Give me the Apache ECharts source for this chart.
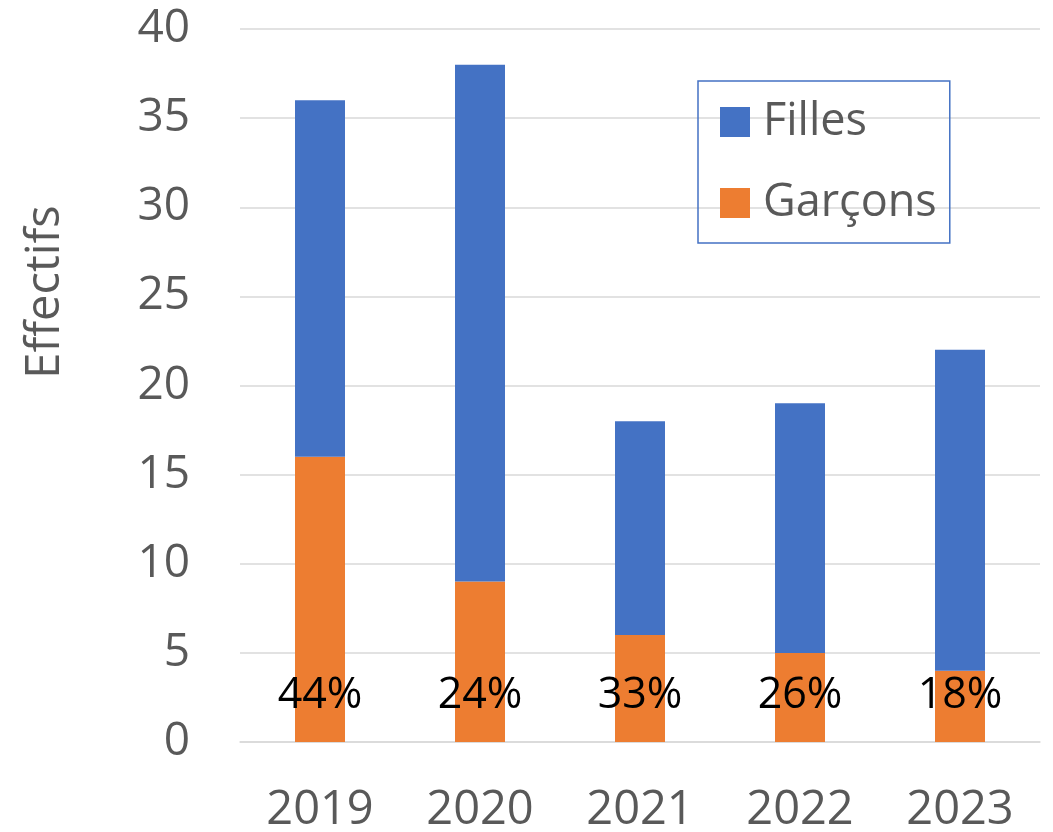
<!DOCTYPE html>
<html lang="fr">
  <head>
    <meta charset="UTF-8" />
    <title>Effectifs</title>
    <script src="https://cdn.jsdelivr.net/npm/echarts@6/dist/echarts.min.js"></script>
    <style>
      html, body { margin: 0; padding: 0; background: #fff; }
    </style>
  </head>
  <body>
    <div id="main" style="width: 1053px; height: 832px;"></div>
    <script type="text/javascript">
      var annees = ["2019", "2020", "2021", "2022", "2023"];
      var garcons = [16, 9, 6, 5, 4];
      var filles = [20, 29, 12, 14, 18];

      var police = "Open Sans";
      var gris = "#595959";

      var myChart = echarts.init(document.getElementById("main"));
      myChart.setOption({
        animation: false,
        textStyle: { fontFamily: police },
        grid: { left: 240, right: 13, top: 29, bottom: 90, outerBoundsMode: "none" },
        legend: {
          data: ["Filles", "Garçons"],
          orient: "vertical",
          left: 698,
          top: 81,
          padding: [18, 13, 17, 22],
          borderColor: "#4472C4",
          borderWidth: 1.5,
          itemWidth: 30,
          itemHeight: 30,
          itemGap: 35,
          icon: "rect",
          textStyle: {
            fontSize: 45,
            lineHeight: 46,
            color: gris,
            padding: [0, 0, 0, 8]
          }
        },
        xAxis: {
          type: "category",
          data: annees,
          axisLine: { show: true, lineStyle: { color: "#D9D9D9", width: 1.5 } },
          axisTick: { show: false },
          axisLabel: { fontSize: 47, color: gris, margin: 45 }
        },
        yAxis: {
          type: "value",
          min: 0,
          max: 40,
          interval: 5,
          axisLine: { show: false },
          axisTick: { show: false },
          axisLabel: { fontSize: 46, color: gris, margin: 50 },
          splitLine: { lineStyle: { color: "#D9D9D9", width: 1.5 } }
        },
        graphic: [
          {
            type: "text",
            x: 46,
            y: 292,
            rotation: Math.PI / 2,
            style: {
              text: "Effectifs",
              font: "47px '" + police + "'",
              fill: gris,
              align: "center",
              verticalAlign: "middle"
            }
          }
        ],
        series: [
          {
            name: "Garçons",
            type: "bar",
            stack: "total",
            barWidth: 50,
            data: garcons,
            itemStyle: { color: "#ED7D31" },
            label: {
              show: true,
              position: "insideBottom",
              distance: 25,
              fontSize: 43,
              color: "#000",
              formatter: function (p) {
                var i = p.dataIndex;
                return Math.round((garcons[i] / (garcons[i] + filles[i])) * 100) + "%";
              }
            }
          },
          {
            name: "Filles",
            type: "bar",
            stack: "total",
            barWidth: 50,
            data: filles,
            itemStyle: { color: "#4472C4" }
          }
        ]
      });
    </script>
  </body>
</html>
